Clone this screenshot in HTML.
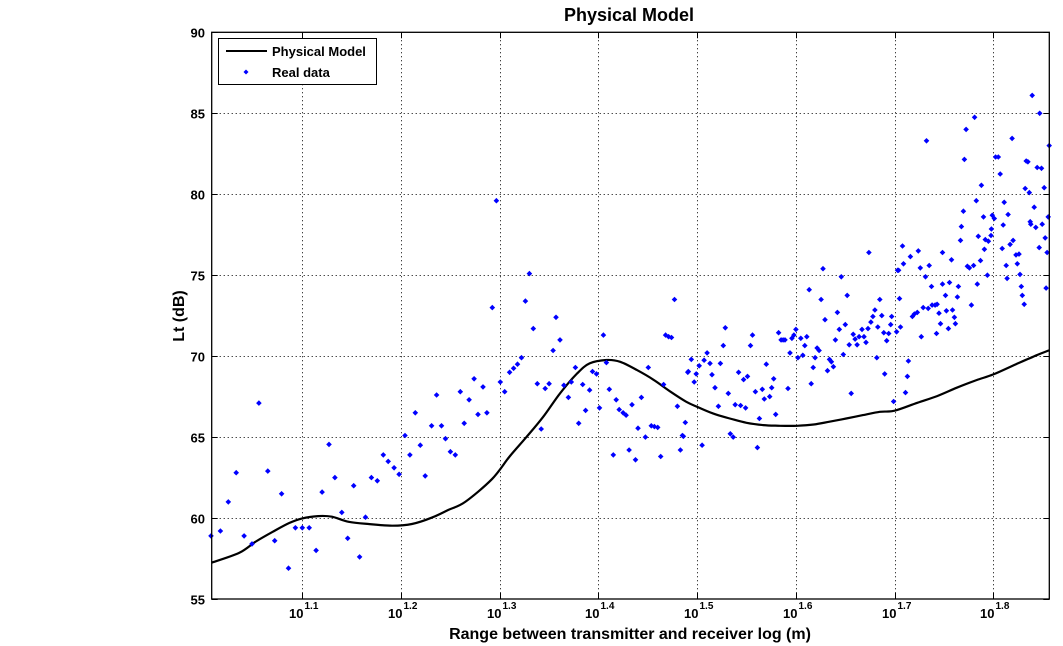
<!DOCTYPE html>
<html><head><meta charset="utf-8"><style>
body{margin:0;background:#fff;}
svg{display:block;font-family:"Liberation Sans",Arial,sans-serif;}
</style></head><body>
<svg id="chart" width="1063" height="646" viewBox="0 0 1063 646">
<rect x="0" y="0" width="1063" height="646" fill="#fff"/>
<g id="grid"></g>
<g id="curve"></g>
<g id="pts"></g>
<g id="axes"></g>
<text x="629" y="21" text-anchor="middle" font-size="18" font-weight="bold">Physical Model</text>
<text x="630" y="639" text-anchor="middle" font-size="16" font-weight="bold">Range between transmitter and receiver log (m)</text>
<text x="184" y="316" text-anchor="middle" font-size="16" font-weight="bold" transform="rotate(-90 184 316)">Lt (dB)</text>
<g>
<rect x="218.5" y="38.5" width="158" height="46" fill="#fff" stroke="#000" stroke-width="1"/>
<line x1="226" y1="51" x2="267" y2="51" stroke="#000" stroke-width="2"/>
<text x="272" y="56" font-size="13" font-weight="bold">Physical Model</text>
<path d="M246,69.5 l2.5,2.5 l-2.5,2.5 l-2.5,-2.5z" fill="#00f"/>
<text x="272" y="77" font-size="13" font-weight="bold">Real data</text>
</g>
</svg>
<script>
const xTicks=[1.1,1.2,1.3,1.4,1.5,1.6,1.7,1.8];
const xTickLabels=["1.1","1.2","1.3","1.4","1.5","1.6","1.7","1.8"];
const yTicks=[55,60,65,70,75,80,85,90];
const modelX=[1.008,1.036,1.053,1.070,1.087,1.100,1.116,1.130,1.147,1.167,1.191,1.211,1.231,1.248,1.265,1.292,1.310,1.327,1.344,1.361,1.378,1.391,1.408,1.422,1.439,1.456,1.473,1.489,1.500,1.516,1.533,1.550,1.567,1.584,1.601,1.618,1.634,1.651,1.668,1.685,1.700,1.723,1.743,1.763,1.783,1.800,1.823,1.844,1.857];
const modelY=[57.24,57.85,58.55,59.15,59.7,59.98,60.12,60.08,59.77,59.63,59.53,59.63,60.02,60.5,61.0,62.4,63.8,65.0,66.25,67.7,68.9,69.55,69.76,69.65,69.14,68.53,67.8,67.18,66.87,66.46,66.15,65.88,65.74,65.7,65.7,65.78,65.95,66.15,66.36,66.56,66.63,67.12,67.53,68.05,68.52,68.87,69.5,70.06,70.37];
const dataX=[1.0075,1.017,1.025,1.033,1.041,1.049,1.056,1.065,1.072,1.079,1.086,1.093,1.100,1.107,1.114,1.120,1.127,1.133,1.140,1.146,1.152,1.158,1.164,1.170,1.176,1.182,1.187,1.193,1.198,1.204,1.209,1.2145,1.2195,1.2245,1.231,1.236,1.241,1.245,1.250,1.255,1.260,1.264,
1.2966,1.2925,1.269,1.274,1.278,1.283,1.287,1.3006,1.305,1.310,1.314,1.318,1.322,1.326,1.330,1.334,1.338,1.342,1.346,1.350,1.354,1.357,1.361,1.365,1.3695,1.3725,1.3766,1.380,1.384,1.387,1.391,1.394,1.398,1.401,1.405,1.408,1.411,1.415,1.418,1.421,1.425,1.428,1.431,1.434,1.4375,1.440,1.4435,1.4475,1.4505,1.4535,1.4567,1.460,1.463,1.466,1.468,1.471,1.474,1.477,1.480,1.483,1.486,1.488,1.491,1.494,1.497,1.499,1.502,
1.485,1.4905,1.505,1.507,1.510,1.513,1.515,1.518,1.5215,1.5235,1.5265,1.5285,1.5315,1.5335,1.5365,1.5385,1.542,1.544,1.547,1.549,1.551,1.554,1.556,1.559,1.561,1.563,1.566,1.568,1.570,1.5735,1.5755,1.5775,1.5795,1.5825,1.585,1.587,1.589,1.592,1.594,1.596,1.598,1.600,1.602,1.605,1.607,1.609,1.611,1.6135,1.6155,1.6175,1.6195,1.6215,1.6235,1.6255,1.6275,1.6295,1.632,1.634,1.636,1.638,1.640,1.642,1.644,1.646,1.648,1.650,1.652,1.654,1.656,1.658,1.660,1.662,1.664,1.667,1.669,1.671,1.673,1.674,1.676,1.678,1.680,1.682,1.683,1.685,1.687,1.689,1.690,1.692,1.694,1.696,1.697,1.699,1.702,1.704,1.705,1.706,
1.8394,1.847,1.8566,1.781,1.7724,1.7323,1.819,1.7707,1.8023,1.805,1.807,1.8333,1.835,1.8444,1.8488,1.7879,1.8323,1.8364,1.8515,1.7828,1.811,1.8414,1.7697,1.790,1.799,1.801,1.815,1.8556,1.7677,1.798,1.810,1.8374,1.838,1.843,1.8495,1.7848,1.7976,1.7919,1.795,1.7667,1.8525,1.820,1.708,1.709,1.716,1.724,1.726,1.735,1.7485,1.7576,1.7737,1.7758,1.780,1.787,1.791,1.809,1.817,1.823,1.826,1.8243,1.813,1.8465,1.8545,1.703,1.7313,1.7374,1.7485,1.7556,1.7646,1.7515,1.7636,1.7778,1.7838,1.794,1.814,1.827,1.8283,1.8293,1.8313,1.8535,1.718,1.720,1.723,1.729,1.734,1.738,1.741,1.743,1.745,1.7525,1.7586,1.7606,
1.711,1.713,1.714,1.727,1.7424,1.7465,1.7545,1.7616];
const dataY=[58.9,59.2,61.0,62.8,58.9,58.4,67.1,62.9,58.6,61.5,56.9,59.4,59.4,59.4,58.0,61.6,64.55,62.5,60.35,58.75,62.0,57.6,60.05,62.5,62.3,63.9,63.5,63.1,62.7,65.1,63.9,66.5,64.5,62.6,65.7,67.6,65.7,64.9,64.1,63.9,67.8,65.85,
79.6,73.0,67.3,68.6,66.4,68.1,66.5,68.4,67.8,69.0,69.25,69.5,69.9,73.4,75.1,71.7,68.3,65.5,68.0,68.3,70.35,72.4,71.0,68.2,67.45,68.4,69.3,65.85,68.25,66.65,67.9,69.05,68.9,66.8,71.3,69.6,67.95,63.9,67.3,66.7,66.5,66.35,64.2,67.0,63.6,65.55,67.45,65.0,69.3,65.7,65.65,65.6,63.8,68.25,71.3,71.2,71.15,73.5,66.9,64.2,65.05,65.9,69.05,69.8,68.4,68.9,69.4,
65.1,69.0,64.5,69.75,70.2,69.55,68.85,68.05,66.9,69.55,70.65,71.75,67.7,65.2,65.0,67.0,69.0,66.95,68.55,66.8,68.75,70.65,71.3,67.8,64.35,66.15,67.95,67.35,69.5,67.5,68.05,68.6,66.4,71.45,71.0,71.0,71.0,68.0,70.2,71.1,71.3,71.65,69.9,71.1,70.05,70.65,71.2,74.1,68.3,69.3,69.9,70.5,70.35,73.5,75.4,72.25,69.1,69.8,69.65,69.35,71.0,72.7,71.65,74.9,70.1,71.95,73.75,70.7,67.7,71.35,71.05,70.7,71.2,71.65,71.2,70.85,71.7,76.4,72.1,72.45,72.85,69.9,71.8,73.5,72.5,71.45,68.9,70.95,71.4,71.95,72.45,67.2,71.5,75.3,73.55,71.8,
86.1,85.0,83.0,84.75,84.0,83.3,83.45,82.15,82.3,82.3,81.25,82.05,82.0,81.65,81.6,80.55,80.35,80.1,80.4,79.6,79.5,79.2,78.95,78.6,78.7,78.5,78.75,78.6,78.0,77.85,78.1,78.3,78.15,77.95,78.15,77.4,77.45,77.2,77.1,77.15,77.3,77.15,76.8,75.7,76.15,76.5,75.45,75.6,76.4,75.95,75.55,75.45,75.6,75.9,76.6,76.65,76.9,76.25,76.3,75.7,75.6,76.7,76.4,75.3,74.9,74.3,74.45,74.55,74.3,73.75,73.65,73.15,74.45,75.0,74.8,75.05,74.3,73.75,73.2,74.2,72.45,72.6,72.7,73.0,72.95,73.15,73.15,73.2,72.65,72.8,72.85,72.4,
67.75,68.75,69.7,71.2,71.4,72.0,71.7,72.0];

const L=211.7,R=1049.3,T=32.3,B=599;
const XMIN=1.0082,XMAX=1.8567,YMIN=55,YMAX=90;
function sx(v){return L+(v-XMIN)/(XMAX-XMIN)*(R-L);}
function sy(v){return B-(v-YMIN)/(YMAX-YMIN)*(B-T);}
const NS="http://www.w3.org/2000/svg";
function mk(tag,attrs,parent){const e=document.createElementNS(NS,tag);for(const k in attrs)e.setAttribute(k,attrs[k]);parent.appendChild(e);return e;}
const grid=document.getElementById('grid'),axes=document.getElementById('axes');
xTicks.forEach((t,i)=>{
  const x=Math.round(sx(t))+0.5;
  const g=mk('line',{x1:x,y1:T,x2:x,y2:B,stroke:'#000','stroke-width':1,'stroke-dasharray':'1,3'},grid);
  
  
  const tk=mk('path',{d:`M${x},${B}v-6M${x},${T}v6`,stroke:'#000','stroke-width':1},axes);
  
  
  const tx=mk('text',{x:x+1,y:618,'text-anchor':'end','font-size':13,'font-weight':'bold'},axes);
  tx.textContent='10';
  
  
  const sp=mk('text',{x:x+2,y:609,'font-size':10,'font-weight':'bold'},axes);
  sp.textContent=xTickLabels[i];
  
  
});
yTicks.forEach(t=>{
  const y=Math.round(sy(t))+0.5;
  if(t>YMIN&&t<YMAX){
    const g=mk('line',{x1:L,y1:y,x2:R,y2:y,stroke:'#000','stroke-width':1,'stroke-dasharray':'1,3'},grid);
    
    
  }
  const tk=mk('path',{d:`M${L},${y}h6M${R},${y}h-6`,stroke:'#000','stroke-width':1},axes);
  
  
  const tx=mk('text',{x:205,y:y+5,'text-anchor':'end','font-size':13,'font-weight':'bold'},axes);
  tx.textContent=String(t);
  
  
});
const frame=mk('rect',{x:L,y:T,width:R-L,height:B-T,fill:'none',stroke:'#000','stroke-width':1.3},axes);


// smooth curve (Catmull-Rom -> Bezier)
const P=modelX.map((v,i)=>[sx(v),sy(modelY[i])]);
let d='M'+P[0][0].toFixed(1)+','+P[0][1].toFixed(1);
for(let i=0;i<P.length-1;i++){
  const p0=P[Math.max(0,i-1)],p1=P[i],p2=P[i+1],p3=P[Math.min(P.length-1,i+2)];
  const c1=[p1[0]+(p2[0]-p0[0])/6,p1[1]+(p2[1]-p0[1])/6];
  const c2=[p2[0]-(p3[0]-p1[0])/6,p2[1]-(p3[1]-p1[1])/6];
  d+=`C${c1[0].toFixed(1)},${c1[1].toFixed(1)} ${c2[0].toFixed(1)},${c2[1].toFixed(1)} ${p2[0].toFixed(1)},${p2[1].toFixed(1)}`;
}
const line=mk('path',{d:d,fill:'none',stroke:'#000','stroke-width':2.2,'stroke-linejoin':'round'},document.getElementById('curve'));


const pts=document.getElementById('pts');
dataX.forEach((v,i)=>{
  const x=sx(v),y=sy(dataY[i]);
  const p=mk('path',{d:`M${x.toFixed(1)},${(y-2.8).toFixed(1)}l2.8,2.8l-2.8,2.8l-2.8,-2.8z`,fill:'#00f'},pts);
  
  
});
</script>
</body></html>
